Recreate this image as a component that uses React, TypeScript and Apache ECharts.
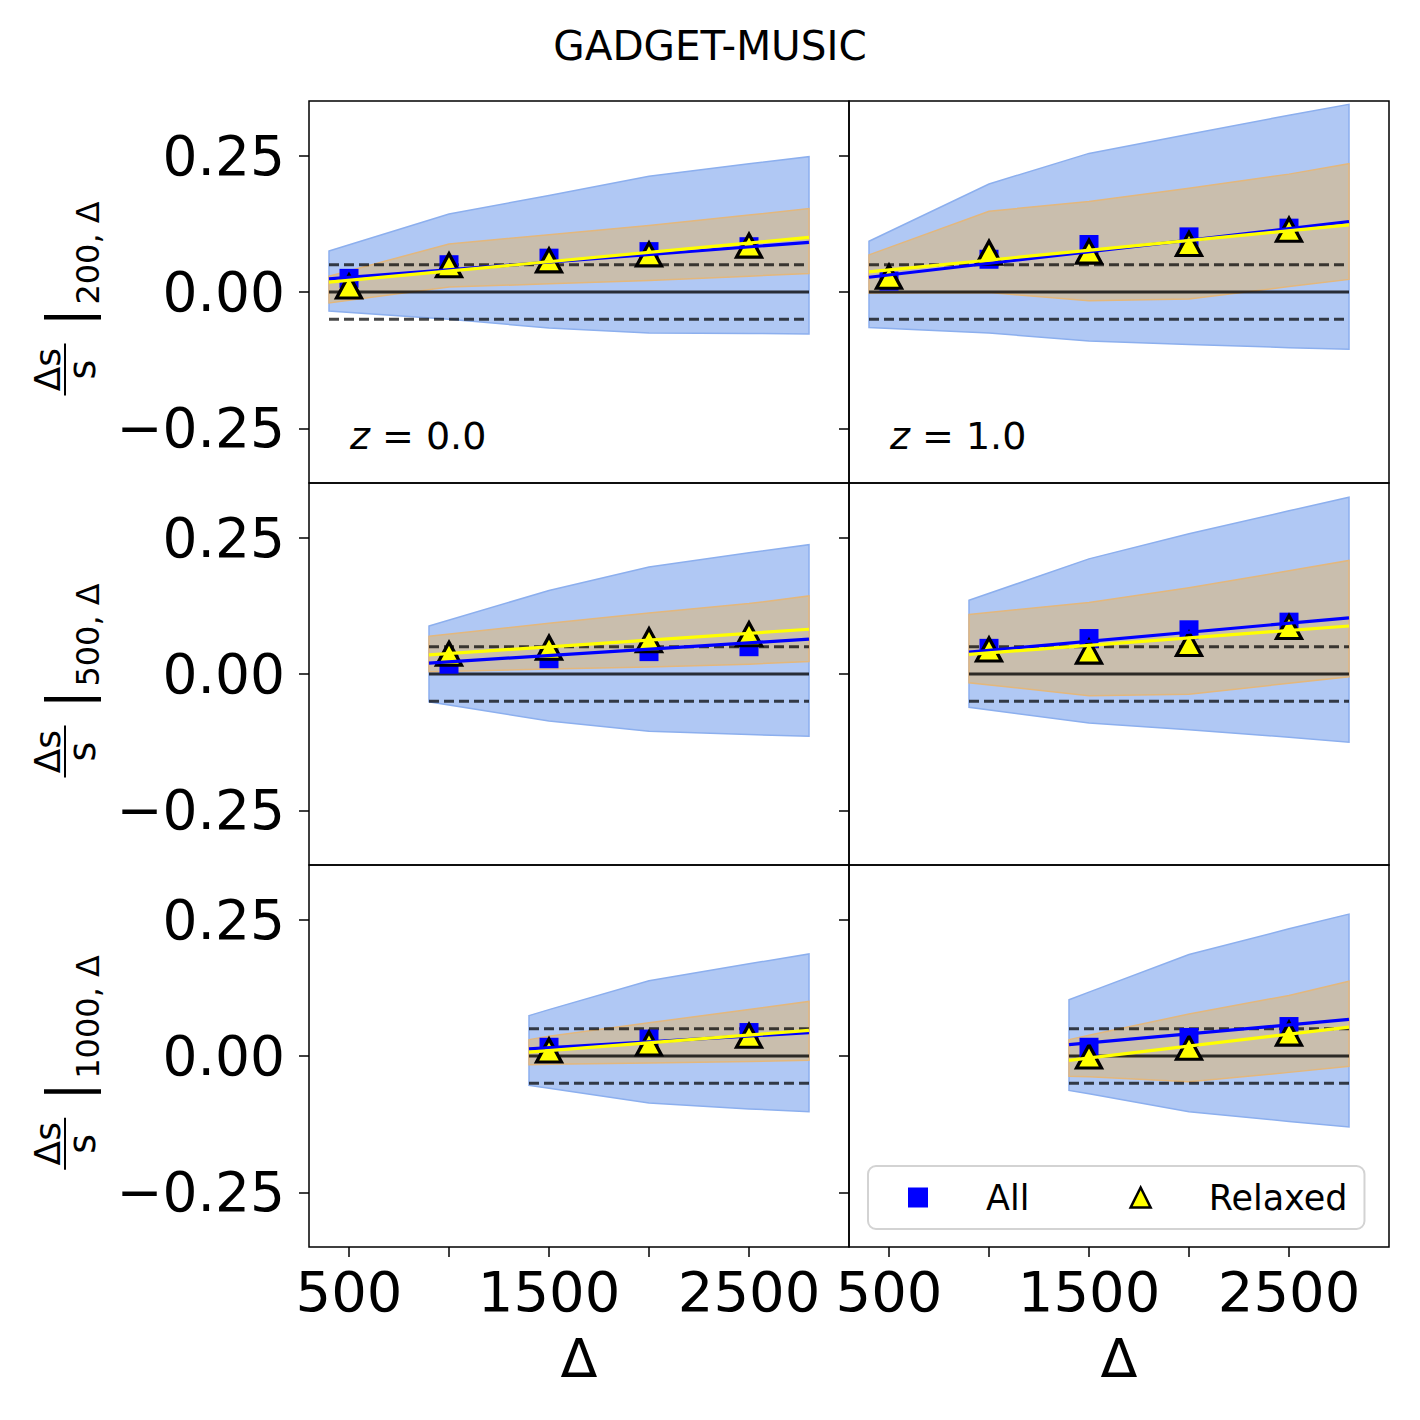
import React, { useEffect, useRef } from 'react';
import * as echarts from 'echarts';

const FONT = "'DejaVu Sans', sans-serif";

// ---------- axes ----------
const xMin = 300;
const xMax = 3000;
const yMin = -0.35;
const yMax = 0.35;
const xTickVals = [500, 1000, 1500, 2000, 2500];
const xLabelVals = [500, 1500, 2500];
const yTickVals = [-0.25, 0, 0.25];

// ---------- x positions per row (Delta_ref = 200, 500, 1000) ----------
const bandX200 = [400, 1000, 1500, 2000, 2500, 2800];
const bandX500 = [900, 1500, 2000, 2500, 2800];
const bandX1000 = [1400, 1500, 2000, 2500, 2800];
const ptsX200 = [500, 1000, 1500, 2000, 2500];
const ptsX500 = [1000, 1500, 2000, 2500];
const ptsX1000 = [1500, 2000, 2500];
const fitX200 = [400, 2800];
const fitX500 = [900, 2800];
const fitX1000 = [1400, 2800];

// ---------- reference lines ----------
const refDashed = [0.05, -0.05];
const refZero = 0;

// ---------- z = 0.0, Delta_ref = 200 ----------
const z0d200BlueHi = [0.075, 0.143, 0.177, 0.212, 0.235, 0.248];
const z0d200BlueLo = [-0.035, -0.05, -0.066, -0.075, -0.076, -0.077];
const z0d200OrgHi = [0.029, 0.088, 0.105, 0.122, 0.141, 0.153];
const z0d200OrgLo = [-0.02, 0.009, 0.015, 0.021, 0.029, 0.034];
const z0d200All = [0.025, 0.05, 0.062, 0.074, 0.083];
const z0d200Relaxed = [0.01, 0.049, 0.058, 0.069, 0.085];
const z0d200FitAll = [0.024, 0.091];
const z0d200FitRelaxed = [0.018, 0.1];

// ---------- z = 1.0, Delta_ref = 200 ----------
const z1d200BlueHi = [0.093, 0.198, 0.254, 0.289, 0.324, 0.344];
const z1d200BlueLo = [-0.065, -0.075, -0.09, -0.096, -0.102, -0.105];
const z1d200OrgHi = [0.068, 0.148, 0.166, 0.19, 0.216, 0.235];
const z1d200OrgLo = [-0.002, -0.001, -0.016, -0.013, 0.01, 0.023];
const z1d200All = [0.02, 0.06, 0.087, 0.101, 0.117];
const z1d200Relaxed = [0.028, 0.072, 0.074, 0.088, 0.114];
const z1d200FitAll = [0.027, 0.129];
const z1d200FitRelaxed = [0.037, 0.123];

// ---------- z = 0.0, Delta_ref = 500 ----------
const z0d500BlueHi = [0.088, 0.153, 0.196, 0.222, 0.237];
const z0d500BlueLo = [-0.051, -0.086, -0.105, -0.111, -0.114];
const z0d500OrgHi = [0.069, 0.093, 0.112, 0.129, 0.143];
const z0d500OrgLo = [0.004, 0.009, 0.013, 0.018, 0.023];
const z0d500All = [0.018, 0.028, 0.041, 0.05];
const z0d500Relaxed = [0.037, 0.048, 0.062, 0.073];
const z0d500FitAll = [0.02, 0.064];
const z0d500FitRelaxed = [0.035, 0.082];

// ---------- z = 1.0, Delta_ref = 500 ----------
const z1d500BlueHi = [0.135, 0.211, 0.257, 0.299, 0.324];
const z1d500BlueLo = [-0.061, -0.09, -0.102, -0.116, -0.125];
const z1d500OrgHi = [0.109, 0.131, 0.158, 0.189, 0.208];
const z1d500OrgLo = [-0.016, -0.04, -0.037, -0.017, -0.005];
const z1d500All = [0.047, 0.065, 0.081, 0.095];
const z1d500Relaxed = [0.045, 0.041, 0.055, 0.086];
const z1d500FitAll = [0.04, 0.103];
const z1d500FitRelaxed = [0.036, 0.088];

// ---------- z = 0.0, Delta_ref = 1000 ----------
const z0d1000BlueHi = [0.074, 0.085, 0.138, 0.169, 0.187];
const z0d1000BlueLo = [-0.054, -0.059, -0.086, -0.097, -0.102];
const z0d1000OrgHi = [0.03, 0.036, 0.061, 0.085, 0.1];
const z0d1000OrgLo = [-0.016, -0.015, -0.013, -0.01, -0.008];
const z0d1000All = [0.016, 0.031, 0.043];
const z0d1000Relaxed = [0.01, 0.023, 0.037];
const z0d1000FitAll = [0.013, 0.043];
const z0d1000FitRelaxed = [0.007, 0.047];

// ---------- z = 1.0, Delta_ref = 1000 ----------
const z1d1000BlueHi = [0.103, 0.117, 0.186, 0.233, 0.26];
const z1d1000BlueLo = [-0.063, -0.069, -0.102, -0.12, -0.13];
const z1d1000OrgHi = [0.03, 0.038, 0.077, 0.111, 0.137];
const z1d1000OrgLo = [-0.037, -0.038, -0.047, -0.03, -0.019];
const z1d1000All = [0.016, 0.034, 0.054];
const z1d1000Relaxed = [-0.001, 0.015, 0.041];
const z1d1000FitAll = [0.021, 0.067];
const z1d1000FitRelaxed = [-0.008, 0.053];

// ---------- labels ----------
const rowSubscripts = ['200, Δ', '500, Δ', '1000, Δ'];
const redshifts = ['0.0', '1.0'];
const titleText = 'GADGET-MUSIC';
const legendNames = ['All', 'Relaxed'];

type Panel = {
  bandX: number[]; ptsX: number[]; fitX: number[];
  blueHi: number[]; blueLo: number[]; orgHi: number[]; orgLo: number[];
  all: number[]; relaxed: number[]; fitAll: number[]; fitRelaxed: number[];
};

const panels: Panel[] = [
  { bandX: bandX200, ptsX: ptsX200, fitX: fitX200, blueHi: z0d200BlueHi, blueLo: z0d200BlueLo, orgHi: z0d200OrgHi, orgLo: z0d200OrgLo, all: z0d200All, relaxed: z0d200Relaxed, fitAll: z0d200FitAll, fitRelaxed: z0d200FitRelaxed },
  { bandX: bandX200, ptsX: ptsX200, fitX: fitX200, blueHi: z1d200BlueHi, blueLo: z1d200BlueLo, orgHi: z1d200OrgHi, orgLo: z1d200OrgLo, all: z1d200All, relaxed: z1d200Relaxed, fitAll: z1d200FitAll, fitRelaxed: z1d200FitRelaxed },
  { bandX: bandX500, ptsX: ptsX500, fitX: fitX500, blueHi: z0d500BlueHi, blueLo: z0d500BlueLo, orgHi: z0d500OrgHi, orgLo: z0d500OrgLo, all: z0d500All, relaxed: z0d500Relaxed, fitAll: z0d500FitAll, fitRelaxed: z0d500FitRelaxed },
  { bandX: bandX500, ptsX: ptsX500, fitX: fitX500, blueHi: z1d500BlueHi, blueLo: z1d500BlueLo, orgHi: z1d500OrgHi, orgLo: z1d500OrgLo, all: z1d500All, relaxed: z1d500Relaxed, fitAll: z1d500FitAll, fitRelaxed: z1d500FitRelaxed },
  { bandX: bandX1000, ptsX: ptsX1000, fitX: fitX1000, blueHi: z0d1000BlueHi, blueLo: z0d1000BlueLo, orgHi: z0d1000OrgHi, orgLo: z0d1000OrgLo, all: z0d1000All, relaxed: z0d1000Relaxed, fitAll: z0d1000FitAll, fitRelaxed: z0d1000FitRelaxed },
  { bandX: bandX1000, ptsX: ptsX1000, fitX: fitX1000, blueHi: z1d1000BlueHi, blueLo: z1d1000BlueLo, orgHi: z1d1000OrgHi, orgLo: z1d1000OrgLo, all: z1d1000All, relaxed: z1d1000Relaxed, fitAll: z1d1000FitAll, fitRelaxed: z1d1000FitRelaxed },
];

// ---------- layout ----------
const GRID_LEFT = 309;
const GRID_TOP = 101;
const GRID_W = 540;
const GRID_H = 382;

const BLUE_FILL = '#b0c8f4';
const BLUE_EDGE = '#8cafee';
const ORG_FILL = '#c9bead';
const ORG_EDGE = '#e3b77c';

function bandRenderer(xs: number[], lo: number[], hi: number[], fill: string, stroke: string) {
  return (params: any, api: any) => {
    if (params.dataIndex !== 0) return null;
    const pts: number[][] = [];
    for (let i = 0; i < xs.length; i++) pts.push(api.coord([xs[i], hi[i]]));
    for (let i = xs.length - 1; i >= 0; i--) pts.push(api.coord([xs[i], lo[i]]));
    return {
      type: 'polygon',
      shape: { points: pts },
      style: { fill, stroke, lineWidth: 1.5 },
    };
  };
}

function fmtY(v: number) {
  if (Math.abs(v) < 1e-9) return '0.00';
  return v < 0 ? '\u2212' + (-v).toFixed(2) : v.toFixed(2);
}

function fmtX(v: number) {
  return String(Math.round(v));
}

function yLabelGroup(r: number) {
  const sub = rowSubscripts[r];
  let w = 0;
  for (const ch of sub) {
    if (ch >= '0' && ch <= '9') w += 0.636;
    else if (ch === 'Δ') w += 0.838;
    else w += 0.318;
  }
  const subW = w * 32;
  const L = 52 + 24 + 5 + 10 + subW;
  const start = -L / 2;
  const cy = GRID_TOP + r * GRID_H + GRID_H / 2 + 4;
  return {
    type: 'group',
    x: 0,
    y: cy,
    rotation: Math.PI / 2,
    children: [
      {
        type: 'text', x: start + 26, y: 47,
        style: { text: 'Δs', fontSize: 36, fontFamily: FONT, fill: '#000', align: 'center', verticalAlign: 'middle', textAlign: 'center', textVerticalAlign: 'middle' },
      },
      {
        type: 'line',
        shape: { x1: start, y1: 65, x2: start + 52, y2: 65 },
        style: { stroke: '#000', lineWidth: 2 },
      },
      {
        type: 'text', x: start + 26, y: 82,
        style: { text: 's', fontSize: 38, fontFamily: FONT, fill: '#000', align: 'center', verticalAlign: 'middle', textAlign: 'center', textVerticalAlign: 'middle' },
      },
      {
        type: 'rect',
        shape: { x: start + 76, y: 44, width: 4.5, height: 57 },
        style: { fill: '#000' },
      },
      {
        type: 'text', x: start + 91, y: 88,
        style: { text: sub, fontSize: 32, fontFamily: FONT, fill: '#000', align: 'left', verticalAlign: 'middle', textAlign: 'left', textVerticalAlign: 'middle' },
      },
    ],
  };
}

function buildOption() {
  const grids: any[] = [];
  const xAxes: any[] = [];
  const yAxes: any[] = [];
  const series: any[] = [];

  panels.forEach((p, i) => {
    const r = Math.floor(i / 2);
    const c = i % 2;
    grids.push({
      left: GRID_LEFT + c * GRID_W,
      top: GRID_TOP + r * GRID_H,
      width: GRID_W,
      height: GRID_H,
      show: true,
      borderColor: '#000',
      borderWidth: 1.5,
      backgroundColor: 'transparent',
      containLabel: false,
    });
    xAxes.push({
      type: 'value',
      gridIndex: i,
      position: 'bottom',
      min: xMin,
      max: xMax,
      axisLine: { show: false, onZero: false },
      splitLine: { show: false },
      axisTick: { show: r === 2, customValues: xTickVals, length: 10, inside: false, lineStyle: { color: '#000', width: 1.5 } },
      axisLabel: { show: r === 2, customValues: xLabelVals, formatter: fmtX, fontSize: 56, fontFamily: FONT, color: '#000', margin: 16 },
      name: r === 2 ? 'Δ' : '',
      nameLocation: 'middle',
      nameGap: 84,
      nameTextStyle: { fontSize: 54, fontFamily: FONT, color: '#000' },
    });
    yAxes.push({
      type: 'value',
      gridIndex: i,
      position: 'left',
      min: yMin,
      max: yMax,
      axisLine: { show: false, onZero: false },
      splitLine: { show: false },
      axisTick: { show: true, customValues: yTickVals, length: 10, inside: false, lineStyle: { color: '#000', width: 1.5 } },
      axisLabel: { show: c === 0, customValues: yTickVals, formatter: fmtY, fontSize: 55, fontFamily: FONT, color: '#000', margin: 24 },
    });

    const x0 = p.bandX[0];
    const x1 = p.bandX[p.bandX.length - 1];

    series.push({
      type: 'custom', name: 'bandAll' + i, xAxisIndex: i, yAxisIndex: i, z: 1, silent: true,
      data: p.bandX.map((x, k) => [x, p.blueLo[k], p.blueHi[k]]),
      encode: { x: 0, y: [1, 2] },
      renderItem: bandRenderer(p.bandX, p.blueLo, p.blueHi, BLUE_FILL, BLUE_EDGE),
    });
    series.push({
      type: 'custom', name: 'bandRelaxed' + i, xAxisIndex: i, yAxisIndex: i, z: 1, silent: true,
      data: p.bandX.map((x, k) => [x, p.orgLo[k], p.orgHi[k]]),
      encode: { x: 0, y: [1, 2] },
      renderItem: bandRenderer(p.bandX, p.orgLo, p.orgHi, ORG_FILL, ORG_EDGE),
    });
    refDashed.forEach((v, k) => {
      series.push({
        type: 'line', name: 'ref' + k + '_' + i, xAxisIndex: i, yAxisIndex: i, z: 2, silent: true,
        data: [[x0, v], [x1, v]], symbol: 'none',
        lineStyle: { color: 'rgba(0,0,0,0.72)', width: 3, type: [10, 5] },
      });
    });
    series.push({
      type: 'line', name: 'zero' + i, xAxisIndex: i, yAxisIndex: i, z: 2, silent: true,
      data: [[x0, refZero], [x1, refZero]], symbol: 'none',
      lineStyle: { color: 'rgba(0,0,0,0.78)', width: 3 },
    });
    series.push({
      type: 'scatter', name: legendNames[0], xAxisIndex: i, yAxisIndex: i, z: 3, silent: true,
      symbol: 'rect', symbolSize: 19,
      itemStyle: { color: '#0000ff', opacity: 1 },
      data: p.ptsX.map((x, k) => [x, p.all[k]]),
    });
    series.push({
      type: 'scatter', name: legendNames[1], xAxisIndex: i, yAxisIndex: i, z: 3, silent: true,
      symbol: 'triangle', symbolSize: [25, 23],
      itemStyle: { color: '#ffff00', borderColor: '#000', borderWidth: 3.2, opacity: 1 },
      data: p.ptsX.map((x, k) => [x, p.relaxed[k]]),
    });
    series.push({
      type: 'line', name: 'fitAll' + i, xAxisIndex: i, yAxisIndex: i, z: 4, silent: true,
      data: p.fitX.map((x, k) => [x, p.fitAll[k]]), symbol: 'none',
      lineStyle: { color: '#0000ff', width: 3.2 },
    });
    series.push({
      type: 'line', name: 'fitRelaxed' + i, xAxisIndex: i, yAxisIndex: i, z: 4, silent: true,
      data: p.fitX.map((x, k) => [x, p.fitRelaxed[k]]), symbol: 'none',
      lineStyle: { color: '#ffff00', width: 3.2 },
    });
  });

  const graphic: any[] = [];
  for (let r = 0; r < 3; r++) graphic.push(yLabelGroup(r));
  redshifts.forEach((zs, c) => {
    graphic.push({
      type: 'text',
      x: 350 + c * GRID_W,
      y: 436,
      z: 10,
      style: {
        text: '{i|z} = ' + zs,
        fontSize: 38,
        fontFamily: FONT,
        fill: '#000',
        align: 'left',
        verticalAlign: 'middle',
        rich: { i: { fontStyle: 'italic', fontSize: 38, fontFamily: FONT, fill: '#000' } },
      },
    });
  });

  return {
    animation: false,
    backgroundColor: '#ffffff',
    title: {
      text: titleText,
      left: 'center',
      top: 20,
      textStyle: { fontSize: 40.5, fontWeight: 'normal', fontFamily: FONT, color: '#000' },
    },
    legend: {
      left: 868,
      top: 1166,
      orient: 'horizontal',
      itemWidth: 20,
      itemHeight: 20,
      itemGap: 100,
      padding: [14, 17, 14, 40],
      borderColor: '#d3d3d3',
      borderWidth: 2,
      borderRadius: 8,
      backgroundColor: 'rgba(255,255,255,0.85)',
      selectedMode: false,
      z: 20,
      textStyle: { fontSize: 35, fontFamily: FONT, color: '#000', padding: [0, 0, 0, 53] },
      data: [
        { name: legendNames[0], icon: 'rect', itemStyle: { color: '#0000ff', borderWidth: 0, opacity: 1 } },
        { name: legendNames[1], icon: 'triangle', itemStyle: { color: '#ffff00', borderColor: '#000', borderWidth: 2.5, opacity: 1 } },
      ],
    },
    grid: grids,
    xAxis: xAxes,
    yAxis: yAxes,
    series,
    graphic,
  };
}

export default function App() {
  const ref = useRef<HTMLDivElement>(null);
  useEffect(() => {
    if (!ref.current) return;
    const chart = echarts.init(ref.current, null, { renderer: 'svg' });
    chart.setOption(buildOption() as any);
    return () => {
      chart.dispose();
    };
  }, []);
  return (
    <div
      ref={ref}
      style={{ position: 'absolute', left: 0, top: 0, width: 1420, height: 1420, background: '#fff' }}
    />
  );
}
